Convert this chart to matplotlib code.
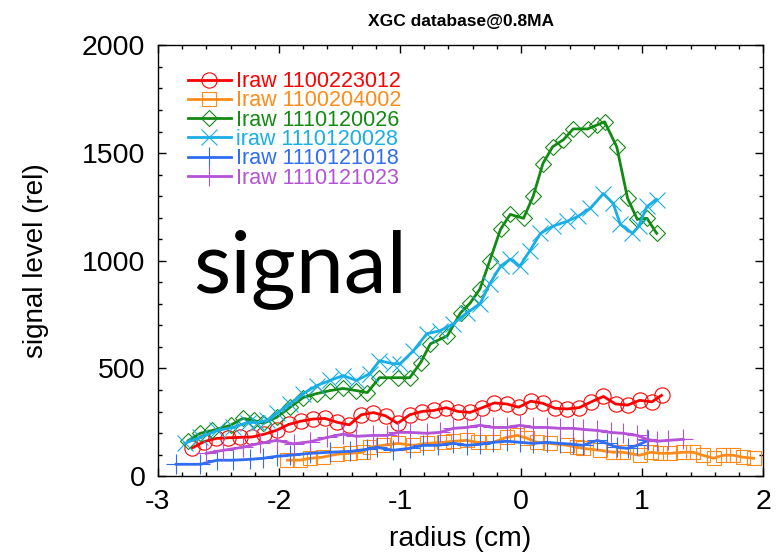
import numpy as np
import matplotlib
matplotlib.use("Agg")
import matplotlib.pyplot as plt
from matplotlib.ticker import MultipleLocator

plt.rcParams["axes.unicode_minus"] = False

# data (radius in cm, signal in rel units)
#--------------------------------------
r_red   = [-2.72,-2.62,-2.52,-2.42,-2.32,-2.22,-2.12,-2.02,-1.92,-1.82,-1.72,-1.62,-1.52,-1.42,
           -1.32,-1.22,-1.12,-1.02,-0.92,-0.82,-0.72,-0.62,-0.52,-0.42,-0.32,-0.22,-0.12,-0.02,
           0.08,0.18,0.28,0.38,0.48,0.58,0.68,0.78,0.88,0.98,1.08,1.16]
s_red   = [130,160,175,178,180,182,195,213,240,255,265,268,250,238,285,295,280,245,285,300,
           305,318,300,296,318,340,335,320,348,338,315,312,318,345,370,335,330,352,345,375]

r_orange = [-1.93,-1.83,-1.74,-1.64,-1.52,-1.41,-1.31,-1.25,-1.14,-1.02,-0.89,-0.78,-0.64,-0.56,
            -0.45,-0.36,-0.23,-0.12,-0.03,0.05,0.13,0.24,0.38,0.46,0.51,0.65,0.76,0.84,0.98,
            1.07,1.15,1.23,1.34,1.42,1.50,1.59,1.67,1.75,1.83,1.92]
s_orange = [74,74,83,88,102,106,111,134,143,152,143,152,157,162,166,157,157,180,189,176,157,
            152,143,134,129,120,111,111,97,111,106,106,111,111,97,83,97,97,88,83]

r_green = [-2.75,-2.65,-2.55,-2.40,-2.30,-2.21,-2.13,-2.02,-1.91,-1.80,-1.69,-1.58,-1.47,-1.36,
           -1.27,-1.17,-1.02,-0.92,-0.83,-0.75,-0.61,-0.50,-0.42,-0.34,-0.26,-0.17,-0.09,0.02,
           0.10,0.18,0.26,0.35,0.43,0.55,0.63,0.69,0.79,0.88,0.96,1.04,1.12]
s_green = [165,199,212,236,268,259,245,273,319,365,383,397,407,397,388,457,457,457,527,614,
           651,758,804,869,998,1146,1215,1197,1300,1451,1529,1562,1612,1612,1631,1645,1529,
           1289,1192,1197,1127]

r_cyan  = [-2.78,-2.65,-2.51,-2.38,-2.26,-2.18,-2.10,-2.02,-1.91,-1.80,-1.69,-1.58,-1.47,-1.36,
           -1.25,-1.17,-1.06,-1.00,-0.89,-0.78,-0.67,-0.56,-0.45,-0.34,-0.26,-0.17,-0.09,-0.01,
           0.07,0.16,0.26,0.38,0.47,0.57,0.68,0.76,0.82,0.92,0.97,1.04,1.12]
s_cyan  = [152,180,212,226,249,249,259,291,337,383,420,444,467,444,476,536,522,522,582,661,
           675,707,758,799,892,975,1007,975,1045,1127,1160,1183,1206,1243,1312,1266,1169,
           1127,1160,1252,1284]

r_blue  = [-2.85,-2.65,-2.51,-2.38,-2.24,-2.13,-2.02,-1.91,-1.74,-1.58,-1.41,-1.27,-1.19,-1.06,
           -0.92,-0.81,-0.69,-0.56,-0.45,-0.34,-0.23,-0.12,-0.01,0.10,0.21,0.32,0.43,0.51,
           0.63,0.71,0.79,0.88,0.96,1.05]
s_blue  = [55,55,74,74,78,83,92,97,106,111,115,125,134,120,129,143,143,152,143,148,157,162,
           157,152,157,152,148,143,166,152,134,129,143,166]

r_purple = [-2.60,-2.46,-2.30,-2.16,-2.02,-1.88,-1.74,-1.60,-1.47,-1.36,-1.22,-1.11,-1.02,-0.92,
            -0.78,-0.67,-0.56,-0.45,-0.34,-0.23,-0.12,-0.01,0.10,0.21,0.32,0.43,0.51,0.63,
            0.74,0.84,0.96,1.04,1.12,1.21,1.34]
s_purple = [106,120,134,152,166,150,160,180,195,185,189,189,203,203,199,203,222,226,236,226,
            226,236,226,226,222,222,217,212,203,199,189,171,162,166,171]

labels = ["Iraw 1100223012", "Iraw 1100204002", "Iraw 1110120026",
          "iraw 1110120028", "Iraw 1110121018", "Iraw 1110121023"]
#--------------------------------------

fig = plt.figure(figsize=(7.78, 5.53), dpi=100)
ax  = fig.add_axes([0.203, 0.139, 0.778, 0.779])

kw = dict(linewidth=2.0, markerfacecolor="none", markeredgewidth=0.8)
ax.plot(r_red,    s_red,    "-", color="#ff0000", marker="o", markersize=11, label=labels[0], **kw)
ax.plot(r_orange, s_orange, "-", color="#ff8c1a", marker="s", markersize=10, label=labels[1], **kw)
ax.plot(r_green,  s_green,  "-", color="#138a13", marker="D", markersize=8,  label=labels[2], **kw)
ax.plot(r_cyan,   s_cyan,   "-", color="#19aee6", marker="x", markersize=11, label=labels[3], **kw)
ax.plot(r_blue,   s_blue,   "-", color="#2f6df5", marker="+", markersize=14, label=labels[4], **kw)
ax.plot(r_purple, s_purple, "-", color="#b452d8", marker="+", markersize=14, label=labels[5], **kw)

ax.set_xlim(-3, 2)
ax.set_ylim(0, 2000)
ax.xaxis.set_major_locator(MultipleLocator(1))
ax.xaxis.set_minor_locator(MultipleLocator(0.2))
ax.yaxis.set_major_locator(MultipleLocator(500))
ax.yaxis.set_minor_locator(MultipleLocator(100))
ax.tick_params(which="both", direction="in", top=True, right=True, width=1)
ax.tick_params(which="major", length=6, labelsize=20.5, pad=9)
ax.tick_params(which="minor", length=3)
for sp in ax.spines.values():
    sp.set_linewidth(1.0)
for t in ax.get_xticklabels() + ax.get_yticklabels():
    t.set_fontfamily("Liberation Sans")

ax.set_xlabel("radius (cm)", fontsize=20.5, family="Liberation Sans", labelpad=8)
ax.set_ylabel("signal level (rel)", fontsize=20, family="Liberation Sans", labelpad=24)
ax.set_title("XGC database@0.8MA", fontsize=12.5, fontweight="bold", family="Liberation Sans", pad=14)

leg = ax.legend(loc="upper left", bbox_to_anchor=(0.035, 0.96), frameon=False,
                prop={"family": "Liberation Sans", "size": 15.5}, labelcolor="linecolor",
                handlelength=2.0, handletextpad=0.25, labelspacing=-0.08, borderaxespad=0)

fig.text(193/778, 1-292/553, "signal", fontsize=62, family="Lato", color="black",
         ha="left", va="baseline")

fig.savefig("out.png", dpi=100)
